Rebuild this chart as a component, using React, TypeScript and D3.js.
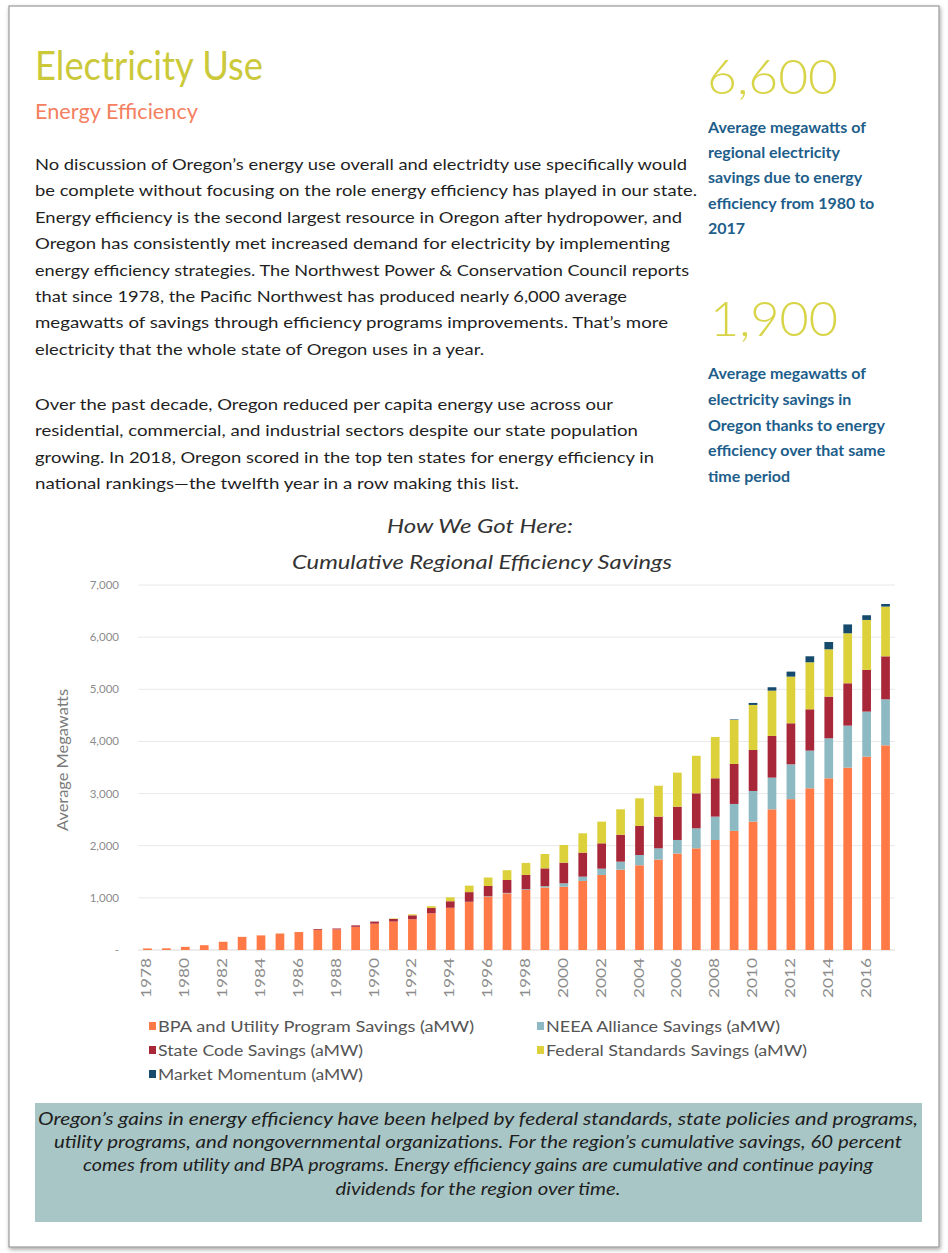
import * as d3 from "d3";

// Cumulative savings by year (aMW)
const years = d3.range(1978, 2018).map(String);

const bpaUtility = [30, 32, 60, 92, 158, 252, 280, 316, 345, 385, 395, 445, 505, 545, 590, 703, 810, 920, 1023, 1087, 1151, 1200, 1215, 1324, 1439, 1540, 1625, 1735, 1850, 1950, 2110, 2285, 2462, 2698, 2893, 3101, 3293, 3497, 3708, 3925];
const neea = [0, 0, 0, 0, 0, 0, 0, 0, 0, 0, 0, 0, 0, 0, 0, 0, 0, 5, 7, 8, 14, 25, 64, 83, 121, 154, 197, 215, 260, 384, 448, 516, 588, 608, 668, 723, 767, 806, 864, 883];
const stateCode = [0, 0, 0, 0, 0, 0, 0, 0, 0, 15, 17, 27, 40, 50, 75, 102, 125, 185, 198, 248, 274, 341, 396, 460, 486, 516, 557, 608, 639, 671, 735, 767, 786, 799, 787, 792, 799, 812, 799, 824];
const federal = [0, 0, 0, 0, 0, 0, 0, 0, 0, 0, 0, 0, 0, 10, 19, 35, 75, 124, 162, 187, 231, 275, 339, 371, 416, 488, 530, 592, 653, 720, 792, 844, 864, 869, 895, 902, 908, 959, 959, 954];
const marketMomentum = [0, 0, 0, 0, 0, 0, 0, 0, 0, 0, 0, 0, 0, 0, 0, 0, 0, 0, 0, 0, 0, 0, 0, 0, 0, 0, 0, 0, 0, 0, 0, 10, 38, 65, 96, 115, 140, 170, 90, 50];

const seriesKeys = ["bpa", "neea", "state", "federal", "market"];
const seriesLabels = [
  "BPA and Utility Program Savings (aMW)",
  "NEEA Alliance Savings (aMW)",
  "State Code Savings (aMW)",
  "Federal Standards Savings (aMW)",
  "Market Momentum (aMW)",
];
const legendWidths = [316, 234, 205, 261, 205];
const seriesColors = ["#FF7A46", "#8DBAC2", "#A8283A", "#DCD03B", "#174B6D"];

const yTicks = [0, 1000, 2000, 3000, 4000, 5000, 6000, 7000];

const para1 = [
  ["No discussion of Oregon\u2019s energy use overall and electridty use specifically would", 652],
  ["be complete without focusing on the role energy efficiency has played in our state.", 662],
  ["Energy efficiency is the second largest resource in Oregon after hydropower, and", 647],
  ["Oregon has consistently met increased demand for electricity by implementing", 635],
  ["energy efficiency strategies. The Northwest Power & Conservation Council reports", 654],
  ["that since 1978, the Pacific Northwest has produced nearly 6,000 average", 592],
  ["megawatts of savings through efficiency programs improvements. That\u2019s more", 633],
  ["electricity that the whole state of Oregon uses in a year.", 449],
];
const para2 = [
  ["Over the past decade, Oregon reduced per capita energy use across our", 578],
  ["residential, commercial, and industrial sectors despite our state population", 603],
  ["growing. In 2018, Oregon scored in the top ten states for energy efficiency in", 619],
  ["national rankings\u2014the twelfth year in a row making this list.", 484],
];
const stat1Lines = ["Average megawatts of", "regional electricity", "savings due to energy", "efficiency from 1980 to", "2017"];
const stat2Lines = ["Average megawatts of", "electricity savings in", "Oregon thanks to energy", "efficiency over that same", "time period"];
const captionLines: [string, number][] = [
  ["Oregon\u2019s gains in energy efficiency have been helped by federal standards, state policies and programs,", 880],
  ["utility programs, and nongovernmental organizations. For the region\u2019s cumulative savings, 60 percent", 848],
  ["comes from utility and BPA programs. Energy efficiency gains are cumulative and continue paying", 790],
  ["dividends for the region over time.", 285],
];

const W = 948;
const H = 1253;
const plot = { left: 138, right: 895, top: 585, bottom: 950 };

const geo = "'Lato', 'Noto Sans', sans-serif";
const body = "'Lato', 'Open Sans', sans-serif";

export default function App() {
  const rows = years.map((year, i) => ({
    year,
    bpa: bpaUtility[i],
    neea: neea[i],
    state: stateCode[i],
    federal: federal[i],
    market: marketMomentum[i],
  }));
  const stacked = d3.stack<any>().keys(seriesKeys)(rows);

  const x = d3.scaleBand<string>().domain(years).range([plot.left, plot.right]).paddingInner(0.54).paddingOuter(0.27);
  const y = d3.scaleLinear().domain([0, 7000]).range([plot.bottom, plot.top]);
  const fmt = d3.format(",");

  return (
    <svg width={W} height={H} style={{ position: "absolute", left: 0, top: 0, background: "#fff" }}>
      <defs>
        <filter id="shadow" x="-5%" y="-5%" width="110%" height="110%">
          <feDropShadow dx="1" dy="2" stdDeviation="2" floodColor="#000" floodOpacity="0.35" />
        </filter>
      </defs>
      <rect x={9} y={6} width={930} height={1241} fill="#fff" stroke="#9a9a9a" strokeWidth={1.2} filter="url(#shadow)" />

      {/* header */}
      <text x={35} y={80} fontFamily={geo} fontSize={40} fill="#CBC93A" textLength={228} lengthAdjust="spacingAndGlyphs">Electricity Use</text>
      <text x={35} y={119} fontFamily={geo} fontSize={22} fill="#F4805F" textLength={163} lengthAdjust="spacingAndGlyphs">Energy Efficiency</text>

      {para1.map(([t, w], i) => (
        <text key={"p1" + i} x={35} y={170 + i * 26.4} fontFamily={body} fontSize={16} fill="#1f1f1f" textLength={w as number} lengthAdjust="spacingAndGlyphs">{t}</text>
      ))}
      {para2.map(([t, w], i) => (
        <text key={"p2" + i} x={35} y={410 + i * 26.4} fontFamily={body} fontSize={16} fill="#1f1f1f" textLength={w as number} lengthAdjust="spacingAndGlyphs">{t}</text>
      ))}

      {/* side stats */}
      <text x={707} y={94} fontFamily={geo} fontWeight={300} fontSize={48} fill="#D8D447" textLength={131} lengthAdjust="spacingAndGlyphs">6,600</text>
      {stat1Lines.map((t, i) => (
        <text key={"s1" + i} x={708} y={133 + i * 25.2} fontFamily={body} fontWeight={700} fontSize={16} fill="#1E5E8B">{t}</text>
      ))}
      <text x={710} y={336} fontFamily={geo} fontWeight={300} fontSize={48} fill="#D8D447" textLength={128} lengthAdjust="spacingAndGlyphs">1,900</text>
      {stat2Lines.map((t, i) => (
        <text key={"s2" + i} x={708} y={379 + i * 25.8} fontFamily={body} fontWeight={700} fontSize={16} fill="#1E5E8B">{t}</text>
      ))}

      {/* chart title */}
      <text x={480} y={533} textAnchor="middle" fontFamily={geo} fontStyle="italic" fontSize={20} fill="#333" textLength={186} lengthAdjust="spacingAndGlyphs">How We Got Here:</text>
      <text x={482} y={569} textAnchor="middle" fontFamily={geo} fontStyle="italic" fontSize={20} fill="#333" textLength={380} lengthAdjust="spacingAndGlyphs">Cumulative Regional Efficiency Savings</text>

      {/* grid + y axis */}
      {yTicks.map((t) => (
        <g key={t}>
          <line x1={plot.left} x2={plot.right} y1={y(t)} y2={y(t)} stroke={t === 0 ? "#d9d9d9" : "#e8e8e8"} strokeWidth={1} />
          <text x={119} y={y(t) + 4} textAnchor="end" fontFamily={body} fontSize={11.5} fill="#8c8c8c">{t === 0 ? "-" : fmt(t)}</text>
        </g>
      ))}
      <text transform={`translate(68,760) rotate(-90)`} textAnchor="middle" fontFamily={body} fontSize={15} fill="#7a7a7a" textLength={142} lengthAdjust="spacingAndGlyphs">Average Megawatts</text>

      {/* bars */}
      {stacked.map((layer, li) => (
        <g key={layer.key} fill={seriesColors[li]}>
          {layer.map((d, i) =>
            d[1] - d[0] > 0 ? (
              <rect key={i} x={x(years[i])} width={x.bandwidth()} y={y(d[1])} height={y(d[0]) - y(d[1])} />
            ) : null
          )}
        </g>
      ))}

      {/* x labels */}
      {years.filter((_, i) => i % 2 === 0).map((yr) => (
        <text key={yr} transform={`translate(${(x(yr) as number) + x.bandwidth() / 2 + 4},958) rotate(-90)`} textAnchor="end" fontFamily={geo} fontSize={12.5} fill="#8c8c8c" textLength={40} lengthAdjust="spacingAndGlyphs">{yr}</text>
      ))}

      {/* legend */}
      {seriesLabels.map((lab, i) => {
        const col = i % 2;
        const row = Math.floor(i / 2);
        const lx = col === 0 ? 149 : 537;
        const ly = 1027 + row * 24;
        return (
          <g key={lab}>
            <rect x={lx} y={ly - 5} width={7} height={8} fill={seriesColors[i]} />
            <text x={lx + 9} y={ly + 5} fontFamily={geo} fontSize={14.5} fill="#555" textLength={legendWidths[i]} lengthAdjust="spacingAndGlyphs">{lab}</text>
          </g>
        );
      })}

      {/* caption */}
      <rect x={35} y={1103} width={887} height={119} fill="#A9C6C6" />
      {captionLines.map(([t, w], i) => (
        <text key={"c" + i} x={478} y={1125 + i * 23.2} textAnchor="middle" fontFamily={geo} fontStyle="italic" fontSize={16.5} fill="#1e1e1e" textLength={w} lengthAdjust="spacingAndGlyphs">{t}</text>
      ))}
    </svg>
  );
}
